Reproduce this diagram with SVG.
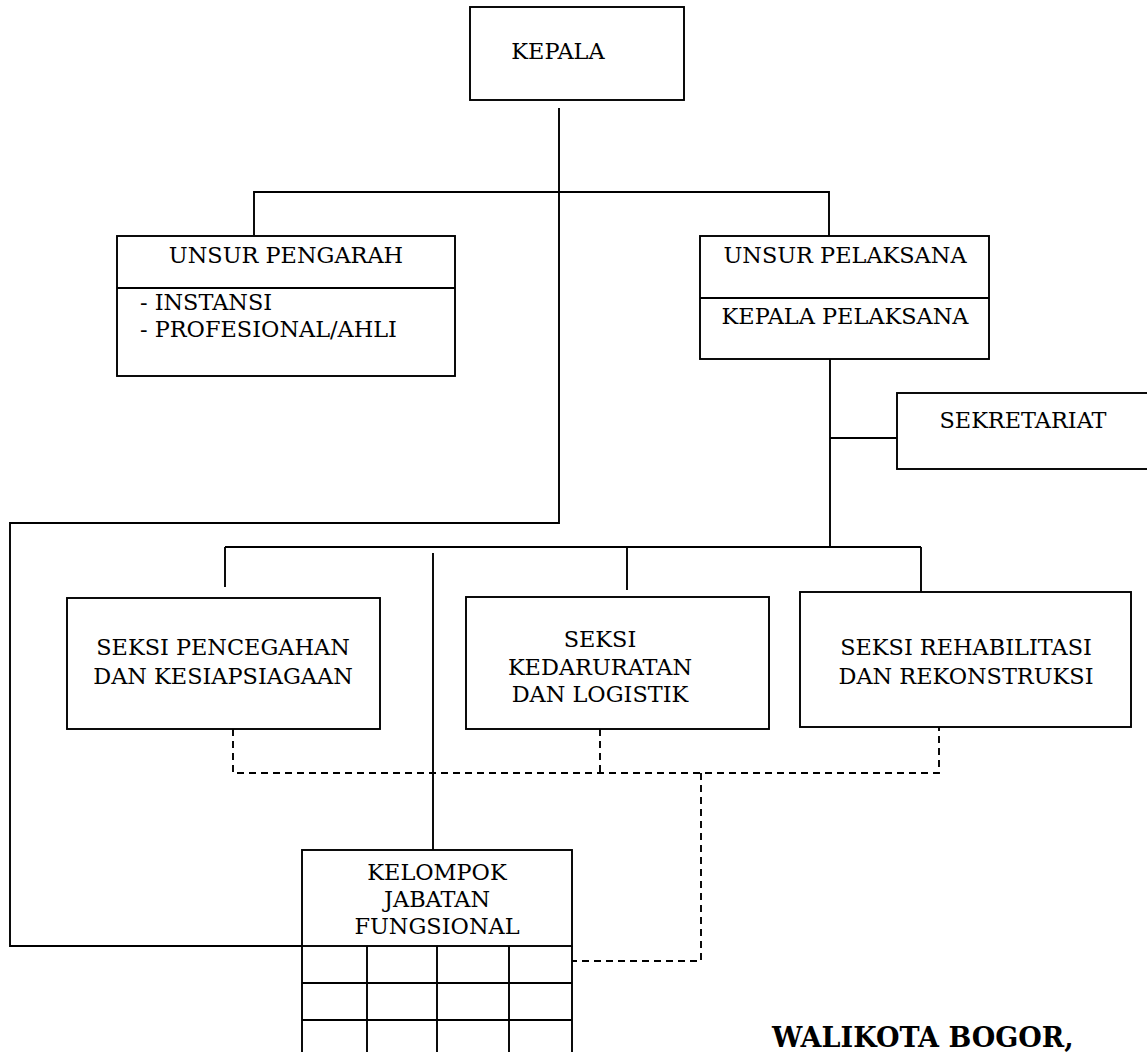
<svg xmlns="http://www.w3.org/2000/svg" width="1147" height="1052" viewBox="0 0 1147 1052">
<style>
.box{fill:#fff;stroke:#000;stroke-width:1.9}
.ln{fill:none;stroke:#000;stroke-width:1.9}
.dash{fill:none;stroke:#000;stroke-width:1.9;stroke-dasharray:7 5}
text{font-family:"DejaVu Serif","Liberation Serif",serif;font-size:22.4px;fill:#000}
.c{text-anchor:middle}
.b{font-weight:bold;font-size:27px}
</style>
<rect width="1147" height="1052" fill="#fff"/>
<g id="connectors">
<path class="ln" d="M559 108 V523 H10 V946 H302"/>
<path class="ln" d="M254 235 V192 H829 V236"/>
<path class="ln" d="M830 359 V547"/>
<path class="ln" d="M830 438 H897"/>
<path class="ln" d="M225 547 H921"/>
<path class="ln" d="M225 547 V587"/>
<path class="ln" d="M627 547 V590"/>
<path class="ln" d="M921 547 V592"/>
<path class="ln" d="M433 553 V850"/>
<path class="dash" d="M233 729 V773 H939 V727"/>
<path class="dash" d="M600 729 V773"/>
<path class="dash" d="M701 773 V961 H572"/>
</g>
<g id="kepala">
<rect class="box" x="470" y="7" width="214" height="93"/>
<text class="c" x="558" y="59">KEPALA</text>
</g>
<g id="unsur-pengarah">
<rect class="box" x="117" y="236" width="338" height="140"/>
<line class="ln" x1="117" y1="288" x2="455" y2="288"/>
<text class="c" x="286" y="263">UNSUR PENGARAH</text>
<text x="140" y="310">- INSTANSI</text>
<text x="140" y="337">- PROFESIONAL/AHLI</text>
</g>
<g id="unsur-pelaksana">
<rect class="box" x="700" y="236" width="289" height="123"/>
<line class="ln" x1="700" y1="298" x2="989" y2="298"/>
<text class="c" x="845" y="263">UNSUR PELAKSANA</text>
<text class="c" x="845" y="324">KEPALA PELAKSANA</text>
</g>
<g id="sekretariat">
<rect class="box" x="897" y="393" width="260" height="76"/>
<text class="c" x="1023" y="428">SEKRETARIAT</text>
</g>
<g id="seksi-pencegahan">
<rect class="box" x="67" y="598" width="313" height="131"/>
<text class="c" x="223" y="655">SEKSI PENCEGAHAN</text>
<text class="c" x="223" y="684">DAN KESIAPSIAGAAN</text>
</g>
<g id="seksi-kedaruratan">
<rect class="box" x="466" y="597" width="303" height="132"/>
<text class="c" x="600" y="647">SEKSI</text>
<text class="c" x="600" y="675">KEDARURATAN</text>
<text class="c" x="600" y="702">DAN LOGISTIK</text>
</g>
<g id="seksi-rehabilitasi">
<rect class="box" x="800" y="592" width="331" height="135"/>
<text class="c" x="966" y="655">SEKSI REHABILITASI</text>
<text class="c" x="966" y="684">DAN REKONSTRUKSI</text>
</g>
<g id="kelompok-jabatan-fungsional">
<rect class="box" x="302" y="850" width="270" height="96"/>
<text class="c" x="437" y="880">KELOMPOK</text>
<text class="c" x="437" y="907">JABATAN</text>
<text class="c" x="437" y="934">FUNGSIONAL</text>
<path class="ln" d="M302 946 V1060 M572 946 V1060 M367 946 V1060 M437 946 V1060 M509 946 V1060 M302 983 H572 M302 1020 H572"/>
</g>
<text class="b" x="772" y="1047">WALIKOTA BOGOR,</text>
</svg>
